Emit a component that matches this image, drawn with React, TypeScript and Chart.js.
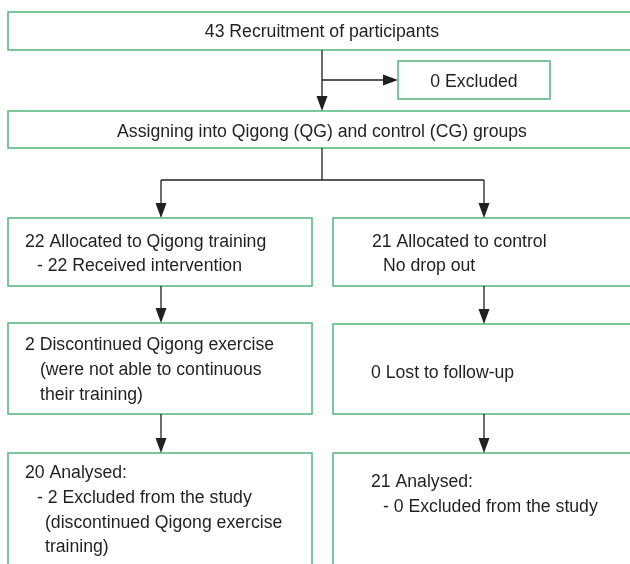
import React, { useEffect, useRef } from "react";
import { Chart, registerables } from "chart.js";
Chart.register(...registerables);

// ---- data ----
const recruited = 43;
const excludedAtStart = 0;
const allocated = [22, 21];
const receivedIntervention = [22];
const discontinued = [2, 0];
const analysed = [20, 21];
const excludedFromStudy = [2, 0];

const boxTexts: string[][] = [
  [`${recruited} Recruitment of participants`],
  [`${excludedAtStart} Excluded`],
  ["Assigning into Qigong (QG) and control (CG) groups"],
  [`${allocated[0]} Allocated to Qigong training`, `- ${receivedIntervention[0]} Received intervention`],
  [`${allocated[1]} Allocated to control`, "No drop out"],
  [`${discontinued[0]} Discontinued Qigong exercise`, "(were not able to continuous", "their training)"],
  [`${discontinued[1]} Lost to follow-up`],
  [`${analysed[0]} Analysed:`, `- ${excludedFromStudy[0]} Excluded from the study`, "(discontinued Qigong exercise", "training)"],
  [`${analysed[1]} Analysed:`, `- ${excludedFromStudy[1]} Excluded from the study`],
];

// ---- layout (in chart units, 0..630 x 0..564) ----
const boxRects: number[][] = [
  [8, 12, 645, 50],
  [398, 61, 550, 99],
  [8, 111, 645, 148],
  [8, 218, 312, 286],
  [333, 218, 645, 286],
  [8, 323, 312, 414],
  [333, 324, 645, 414],
  [8, 453, 312, 620],
  [333, 453, 645, 620],
];
const textAlign: string[] = ["center", "center", "center", "left", "left", "left", "left", "left", "left"];
const textX: number[][] = [
  [322], [474], [322],
  [25, 37], [372, 383],
  [25, 40, 40], [371],
  [25, 37, 45, 45], [371, 383],
];
const textY: number[][] = [
  [37], [87], [137],
  [247, 271], [247, 271],
  [350, 375, 400], [378],
  [478, 503, 528, 552], [487, 512],
];
// connectors: [x1,y1,x2,y2,hasHead]
const connectors: number[][] = [
  [322, 50, 322, 111, 1],
  [322, 80, 398, 80, 1],
  [322, 148, 322, 180, 0],
  [161, 180, 484, 180, 0],
  [161, 180, 161, 218, 1],
  [484, 180, 484, 218, 1],
  [161, 286, 161, 323, 1],
  [484, 286, 484, 324, 1],
  [161, 414, 161, 453, 1],
  [484, 414, 484, 453, 1],
];

const BORDER = "#5cba84";
const INK = "#231f20";
const FONT = '18px "Liberation Sans", Arial, sans-serif';
const SQUEEZE = 0.98;

const flowPlugin = {
  id: "flow",
  afterDraw(chart: any) {
    const ctx = chart.ctx as CanvasRenderingContext2D;
    const xs = chart.scales.x;
    const ys = chart.scales.y;
    const px = (v: number) => xs.getPixelForValue(v);
    const py = (v: number) => ys.getPixelForValue(v);
    ctx.save();
    // boxes
    ctx.strokeStyle = BORDER;
    ctx.lineWidth = 1.6;
    boxRects.forEach((r) => {
      const x0 = px(r[0]), y0 = py(r[1]), x1 = px(r[2]), y1 = py(r[3]);
      ctx.strokeRect(x0, y0, x1 - x0, y1 - y0);
    });
    // connectors
    ctx.strokeStyle = INK;
    ctx.fillStyle = INK;
    ctx.lineWidth = 1.3;
    connectors.forEach((c) => {
      const x1 = px(c[0]), y1 = py(c[1]), x2 = px(c[2]), y2 = py(c[3]);
      const head = c[4] === 1;
      const ang = Math.atan2(y2 - y1, x2 - x1);
      const hl = 15, hw = 5.5;
      const ex = head ? x2 - Math.cos(ang) * hl : x2;
      const ey = head ? y2 - Math.sin(ang) * hl : y2;
      ctx.beginPath();
      ctx.moveTo(x1, y1);
      ctx.lineTo(ex, ey);
      ctx.stroke();
      if (head) {
        ctx.beginPath();
        ctx.moveTo(x2, y2);
        ctx.lineTo(ex - Math.sin(ang) * hw, ey + Math.cos(ang) * hw);
        ctx.lineTo(ex + Math.sin(ang) * hw, ey - Math.cos(ang) * hw);
        ctx.closePath();
        ctx.fill();
      }
    });
    // text
    ctx.font = FONT;
    ctx.fillStyle = INK;
    ctx.textBaseline = "alphabetic";
    boxTexts.forEach((lines, i) => {
      ctx.textAlign = textAlign[i] as CanvasTextAlign;
      lines.forEach((t, j) => {
        ctx.save();
        ctx.translate(px(textX[i][j]), py(textY[i][j]));
        ctx.scale(SQUEEZE, 1);
        ctx.fillText(t, 0, 0);
        ctx.restore();
      });
    });
    ctx.restore();
  },
};

export default function App() {
  const ref = useRef<HTMLCanvasElement | null>(null);
  useEffect(() => {
    if (!ref.current) return;
    const chart = new Chart(ref.current, {
      type: "scatter",
      data: { datasets: [{ data: [], pointRadius: 0 }] },
      options: {
        animation: false,
        responsive: false,
        layout: { padding: 0 },
        plugins: { legend: { display: false }, tooltip: { enabled: false } },
        scales: {
          x: { type: "linear", min: 0, max: 630, display: false },
          y: { type: "linear", min: 0, max: 564, reverse: true, display: false },
        },
      },
      plugins: [flowPlugin],
    });
    return () => chart.destroy();
  }, []);
  return (
    <div style={{ position: "absolute", left: 0, top: 0, width: 630, height: 564, background: "#fff" }}>
      <canvas ref={ref} width={630} height={564} style={{ display: "block" }} />
    </div>
  );
}
